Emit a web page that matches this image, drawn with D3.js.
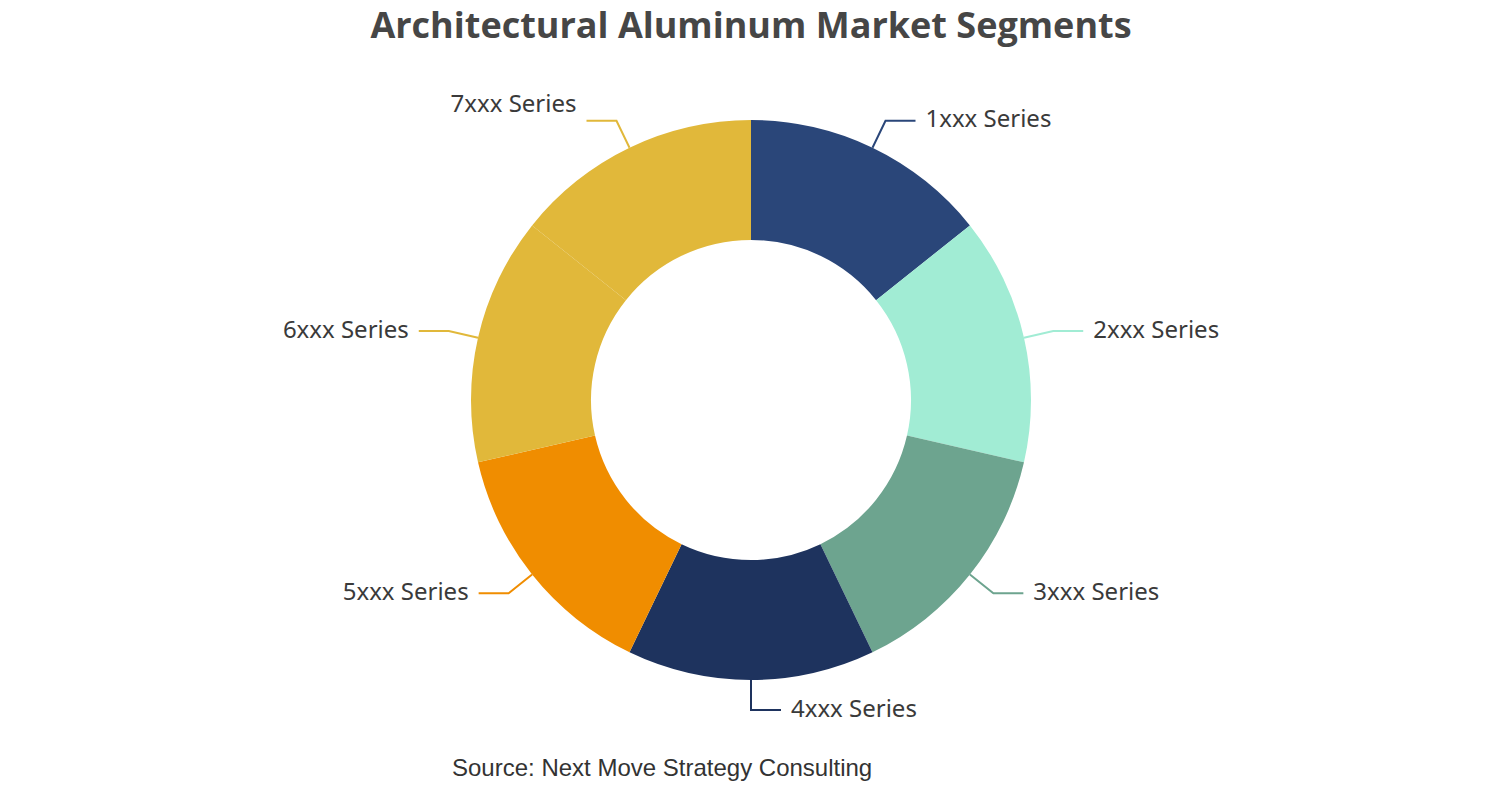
<!DOCTYPE html>
<html>
<head>
<meta charset="utf-8">
<script src="https://cdn.jsdelivr.net/npm/d3@7"></script>
<style>
  body { margin: 0; background: #fff; }
</style>
</head>
<body>
<div id="chart"></div>
<script>
const categories = ["1xxx Series", "2xxx Series", "3xxx Series", "4xxx Series", "5xxx Series", "6xxx Series", "7xxx Series"];
const values = [1, 1, 1, 1, 1, 1, 1];
const colors = ["#2a4679", "#a1ecd4", "#6da48f", "#1e335e", "#f08d00", "#e1b83a", "#e1b83a"];
// label nudges (px) where the original layout moved a label off its line
const labelShiftY = [0, 0, 0, 0, 0, 0, -15];

const width = 1502, height = 800;
const cx = 751, cy = 400;
const outerR = 280, innerR = 160;
const len1 = 30, len2 = 30;

const svg = d3.select("#chart").append("svg")
  .attr("width", width)
  .attr("height", height);

svg.append("text")
  .attr("x", width / 2)
  .attr("y", 38)
  .attr("text-anchor", "middle")
  .attr("font-family", "'Open Sans', 'Noto Sans', sans-serif")
  .attr("font-weight", "bold")
  .attr("font-size", "36px")
  .attr("fill", "#464646")
  .text("Architectural Aluminum Market Segments");

const pie = d3.pie().sort(null).value(d => d);
const arcs = pie(values);
const arc = d3.arc().innerRadius(innerR).outerRadius(outerR);

const g = svg.append("g").attr("transform", `translate(${cx},${cy})`);

g.selectAll("path.slice")
  .data(arcs)
  .join("path")
  .attr("class", "slice")
  .attr("d", arc)
  .attr("fill", (d, i) => colors[i]);

arcs.forEach((d, i) => {
  const a = (d.startAngle + d.endAngle) / 2;
  const sx = Math.sin(a), sy = -Math.cos(a);
  const dir = sx < -1e-6 ? -1 : 1;
  const p0 = [sx * outerR, sy * outerR];
  const p1 = [sx * (outerR + len1), sy * (outerR + len1)];
  const p2 = [p1[0] + dir * len2, p1[1]];

  g.append("polyline")
    .attr("points", [p0, p1, p2].map(p => p.join(",")).join(" "))
    .attr("fill", "none")
    .attr("stroke", colors[i])
    .attr("stroke-width", 2);

  g.append("text")
    .attr("x", p2[0] + dir * 10)
    .attr("y", p2[1] + labelShiftY[i])
    .attr("dy", "0.28em")
    .attr("text-anchor", dir < 0 ? "end" : "start")
    .attr("font-family", "'Noto Sans', 'Open Sans', sans-serif")
    .attr("font-size", "24px")
    .attr("fill", "#3a3a3a")
    .text(categories[i]);
});

svg.append("text")
  .attr("x", 452)
  .attr("y", 776)
  .attr("font-family", "'Liberation Sans', Arial, sans-serif")
  .attr("font-size", "24px")
  .attr("fill", "#333")
  .text("Source: Next Move Strategy Consulting");
</script>
</body>
</html>
